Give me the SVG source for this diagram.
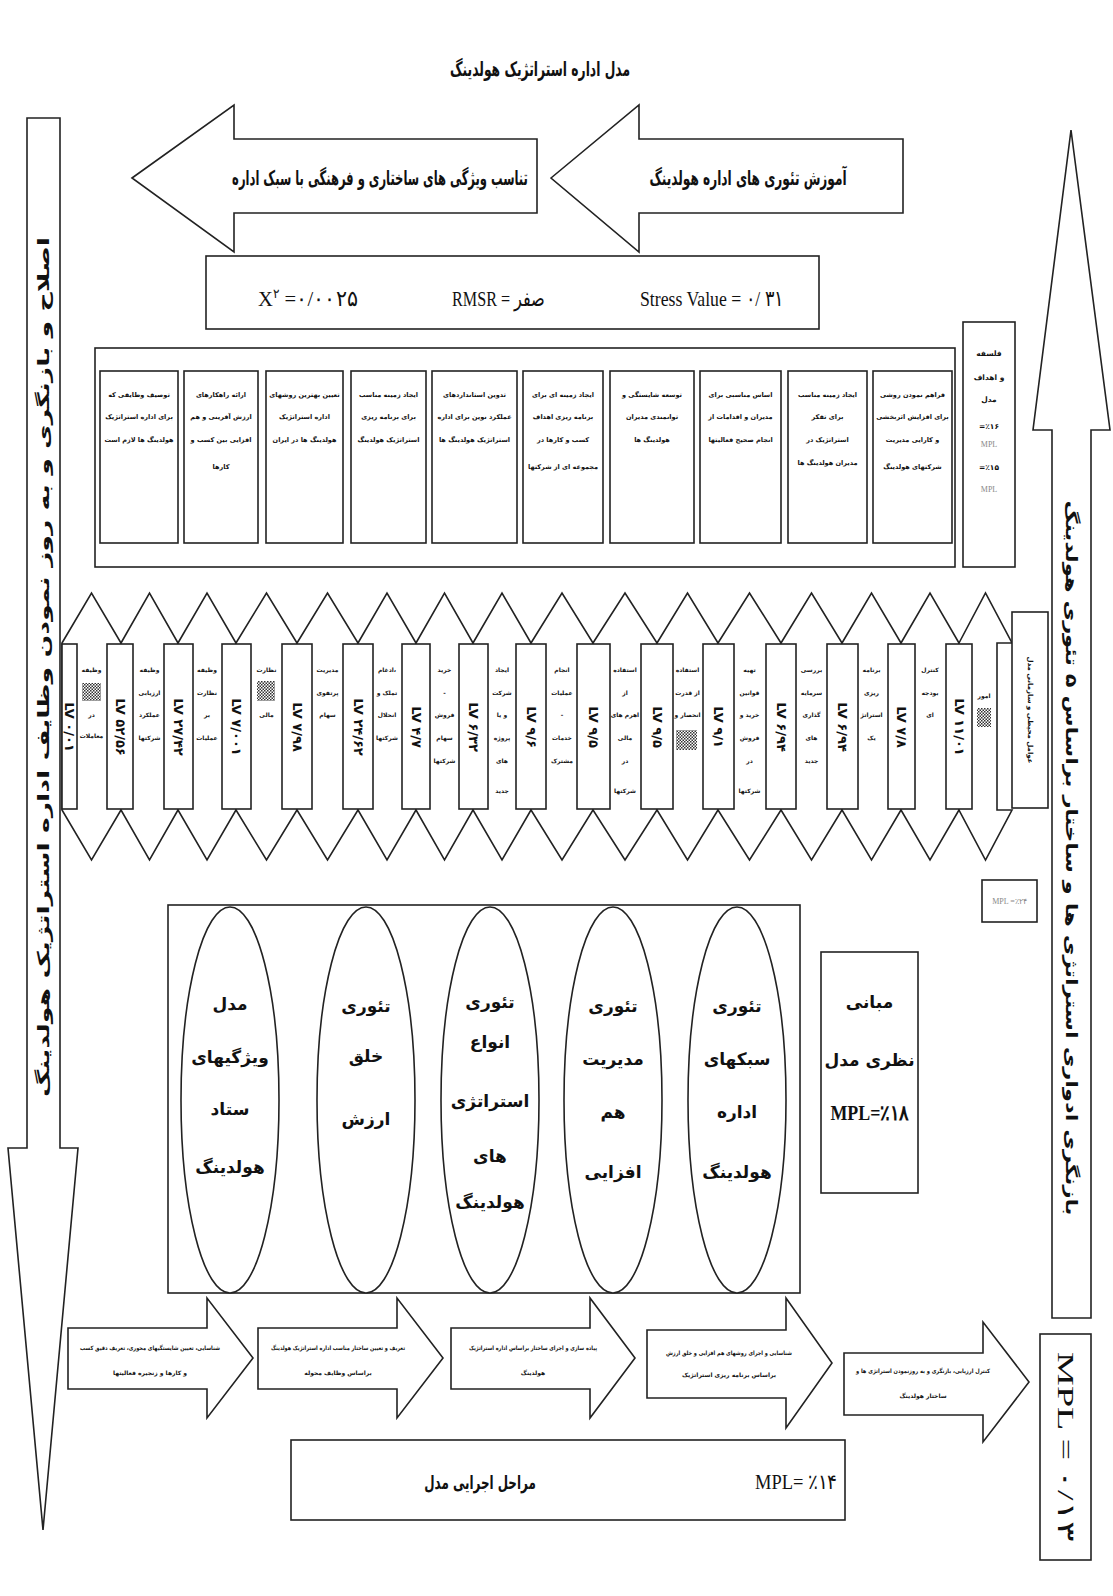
<svg xmlns="http://www.w3.org/2000/svg" width="1113" height="1596" viewBox="0 0 1113 1596">
<defs>
<style>
.s{fill:#fff;stroke:#222;stroke-width:1.6}
.fa{font-family:"DejaVu Sans",sans-serif;font-weight:bold;fill:#111;text-anchor:middle}
.en{font-family:"Liberation Serif",serif;fill:#111}
.sm{font-size:6.5px}
.xs{font-size:6px}
.el{font-size:17px}
.num{font-family:"DejaVu Sans",sans-serif;font-weight:bold;font-size:13px;fill:#111;text-anchor:middle;dominant-baseline:central}
.gray{fill:#888}
</style>
<pattern id="hatch" width="3" height="3" patternUnits="userSpaceOnUse">
<rect width="3" height="3" fill="#fff"/>
<rect width="1.5" height="1.5" fill="#333"/>
<rect x="1.5" y="1.5" width="1.5" height="1.5" fill="#333"/>
</pattern>
</defs>
<rect width="1113" height="1596" fill="#fff"/>

<g id="title">
<text class="fa" font-size="20" transform="translate(540,76) scale(0.65,1)" textLength="277" lengthAdjust="spacingAndGlyphs">مدل اداره استراتژیک هولدینگ</text>
</g>

<g id="arrow-top-left">
<polygon class="s" points="132,178 234,105 234,139 537,139 537,213 234,213 234,252"/>
<text class="fa" font-size="20" transform="translate(380,185) scale(0.6,1)" textLength="493" lengthAdjust="spacingAndGlyphs">تناسب ویژگی های ساختاری و فرهنگی با سبک اداره</text>
</g>
<g id="arrow-top-right">
<polygon class="s" points="551,178 639,105 639,139 903,139 903,213 639,213 639,252"/>
<text class="fa" font-size="20" transform="translate(748,185) scale(0.63,1)" textLength="313" lengthAdjust="spacingAndGlyphs">آموزش تئوری های اداره هولدینگ</text>
</g>

<g id="stats">
<rect class="s" x="206" y="256" width="613" height="73"/>
<text class="en" x="258" y="306" font-size="22" textLength="100" lengthAdjust="spacingAndGlyphs">X<tspan font-size="13" dy="-8">۲</tspan><tspan dy="8">  =۰/۰۰۲۵</tspan></text>
<text class="en" x="452" y="306" font-size="22" direction="ltr" textLength="93" lengthAdjust="spacingAndGlyphs">RMSR = صفر</text>
<text class="en" x="640" y="306" font-size="22" textLength="144" lengthAdjust="spacingAndGlyphs">Stress Value = ۰/ ۳۱</text>
</g>

<g id="goals">
<rect class="s" x="95" y="348" width="860" height="219"/>
<g id="goal-1"><rect class="s" x="100" y="371" width="78" height="172"/>
<text class="fa sm"><tspan x="139" y="397">توصیف وظایفی که</tspan><tspan x="139" y="419">برای اداره استراتژیک</tspan><tspan x="139" y="442">هولدینگ ها لازم است</tspan></text></g>
<g id="goal-2"><rect class="s" x="184" y="371" width="74" height="172"/>
<text class="fa sm"><tspan x="221" y="397">ارائه راهکارهای</tspan><tspan x="221" y="419">ارزش آفرینی و هم</tspan><tspan x="221" y="442">افزایی بین کسب و</tspan><tspan x="221" y="469">کارها</tspan></text></g>
<g id="goal-3"><rect class="s" x="266" y="371" width="77" height="172"/>
<text class="fa sm"><tspan x="304.5" y="397">تعیین بهترین روشهای</tspan><tspan x="304.5" y="419">اداره استراتژیک</tspan><tspan x="304.5" y="442">هولدینگ ها در ایران</tspan></text></g>
<g id="goal-4"><rect class="s" x="351" y="371" width="75" height="172"/>
<text class="fa sm"><tspan x="388.5" y="397">ایجاد زمینه مناسب</tspan><tspan x="388.5" y="419">برای برنامه ریزی</tspan><tspan x="388.5" y="442">استراتژیک هولدینگ</tspan></text></g>
<g id="goal-5"><rect class="s" x="432" y="371" width="85" height="172"/>
<text class="fa sm"><tspan x="474.5" y="397">تدوین استانداردهای</tspan><tspan x="474.5" y="419">عملکرد نوین برای اداره</tspan><tspan x="474.5" y="442">استراتژیک هولدینگ ها</tspan></text></g>
<g id="goal-6"><rect class="s" x="523" y="371" width="80" height="172"/>
<text class="fa sm"><tspan x="563" y="397">ایجاد زمینه ای برای</tspan><tspan x="563" y="419">برنامه ریزی اهداف</tspan><tspan x="563" y="442">کسب و کارها در</tspan><tspan x="563" y="469">مجموعه ای از شرکتها</tspan></text></g>
<g id="goal-7"><rect class="s" x="610" y="371" width="84" height="172"/>
<text class="fa sm"><tspan x="652" y="397">توسعه شایستگی و</tspan><tspan x="652" y="419">توانمندی مدیران</tspan><tspan x="652" y="442">هولدینگ ها</tspan></text></g>
<g id="goal-8"><rect class="s" x="700" y="371" width="81" height="172"/>
<text class="fa sm"><tspan x="740.5" y="397">اساس مناسبی برای</tspan><tspan x="740.5" y="419">مدیران و اقدامات از</tspan><tspan x="740.5" y="442">انجام صحیح فعالیتها</tspan></text></g>
<g id="goal-9"><rect class="s" x="788" y="371" width="79" height="172"/>
<text class="fa sm"><tspan x="827.5" y="397">ایجاد زمینه مناسب</tspan><tspan x="827.5" y="419">برای تفکر</tspan><tspan x="827.5" y="442">استراتژیک در</tspan><tspan x="827.5" y="465">مدیران هولدینگ ها</tspan></text></g>
<g id="goal-10"><rect class="s" x="873" y="371" width="79" height="172"/>
<text class="fa sm"><tspan x="912.5" y="397">فراهم نمودن روشی</tspan><tspan x="912.5" y="419">برای افزایش اثربخشی</tspan><tspan x="912.5" y="442">و کارایی مدیریت</tspan><tspan x="912.5" y="469">شرکتهای هولدینگ</tspan></text></g>
</g>

<g id="philosophy">
<rect class="s" x="963" y="322" width="52" height="245"/>
<text class="fa" font-size="7.5"><tspan x="989" y="356">فلسفه</tspan><tspan x="989" y="380">و اهداف</tspan><tspan x="989" y="402">مدل</tspan><tspan x="989" y="429">=٪۱۶</tspan><tspan x="989" y="470">=٪۱۵</tspan></text>
<text class="en gray" font-size="8" text-anchor="middle"><tspan x="989" y="447">MPL</tspan><tspan x="989" y="492">MPL</tspan></text>
</g>

<g id="tasks">
<g id="task-1"><polygon class="s" points="62,643 91.5,593 121,643 121,810 91.5,860 62,810"/></g>
<g id="task-2"><polygon class="s" points="121,643 149.5,593 178,643 178,810 149.5,860 121,810"/></g>
<g id="task-3"><polygon class="s" points="178,643 207,593 236,643 236,810 207,860 178,810"/></g>
<g id="task-4"><polygon class="s" points="236,643 266.5,593 297,643 297,810 266.5,860 236,810"/></g>
<g id="task-5"><polygon class="s" points="297,643 327.5,593 358,643 358,810 327.5,860 297,810"/></g>
<g id="task-6"><polygon class="s" points="358,643 387,593 416,643 416,810 387,860 358,810"/></g>
<g id="task-7"><polygon class="s" points="416,643 444.5,593 473,643 473,810 444.5,860 416,810"/></g>
<g id="task-8"><polygon class="s" points="473,643 502,593 531,643 531,810 502,860 473,810"/></g>
<g id="task-9"><polygon class="s" points="531,643 562,593 593,643 593,810 562,860 531,810"/></g>
<g id="task-10"><polygon class="s" points="593,643 625,593 657,643 657,810 625,860 593,810"/></g>
<g id="task-11"><polygon class="s" points="657,643 687.5,593 718,643 718,810 687.5,860 657,810"/></g>
<g id="task-12"><polygon class="s" points="718,643 749.5,593 781,643 781,810 749.5,860 718,810"/></g>
<g id="task-13"><polygon class="s" points="781,643 811.5,593 842,643 842,810 811.5,860 781,810"/></g>
<g id="task-14"><polygon class="s" points="842,643 871.5,593 901,643 901,810 871.5,860 842,810"/></g>
<g id="task-15"><polygon class="s" points="901,643 930,593 959,643 959,810 930,860 901,810"/></g>
<g id="task-16"><polygon class="s" points="959,643 985.5,593 1012,643 997,643 997,810 1012,810 985.5,860 959,810"/></g>

<g id="loads">
<rect class="s" x="62" y="644" width="15" height="165"/>
<rect class="s" x="107" y="644" width="26" height="165"/>
<rect class="s" x="164" y="644" width="29" height="165"/>
<rect class="s" x="222" y="644" width="29" height="165"/>
<rect class="s" x="282" y="644" width="30" height="165"/>
<rect class="s" x="343" y="644" width="30" height="165"/>
<rect class="s" x="402" y="644" width="28" height="165"/>
<rect class="s" x="459" y="644" width="29" height="165"/>
<rect class="s" x="516" y="644" width="30" height="165"/>
<rect class="s" x="577" y="644" width="33" height="165"/>
<rect class="s" x="641" y="644" width="32" height="165"/>
<rect class="s" x="703" y="644" width="31" height="165"/>
<rect class="s" x="766" y="644" width="30" height="165"/>
<rect class="s" x="827" y="644" width="31" height="165"/>
<rect class="s" x="888" y="644" width="27" height="165"/>
<rect class="s" x="946" y="644" width="26" height="165"/>
<text class="num" font-size="10" transform="translate(69.5,727) rotate(90)">LV ۰/۰۱</text>
<text class="num" transform="translate(120,727) rotate(90)">LV ۵۲/۵۶</text>
<text class="num" transform="translate(178.5,727) rotate(90)">LV ۲۷/۴۲</text>
<text class="num" transform="translate(236.5,727) rotate(90)">LV ۷/۰۰۱</text>
<text class="num" transform="translate(297,727) rotate(90)">LV ۷/۹۸</text>
<text class="num" transform="translate(358,727) rotate(90)">LV ۲۴/۶۲</text>
<text class="num" transform="translate(416,727) rotate(90)">LV ۴/۷</text>
<text class="num" transform="translate(473.5,727) rotate(90)">LV ۶/۳۲</text>
<text class="num" transform="translate(531,727) rotate(90)">LV ۹/۶</text>
<text class="num" transform="translate(593.5,727) rotate(90)">LV ۹/۵</text>
<text class="num" transform="translate(657,727) rotate(90)">LV ۹/۵</text>
<text class="num" transform="translate(718.5,727) rotate(90)">LV ۹/۱</text>
<text class="num" transform="translate(781,727) rotate(90)">LV ۶/۹۴</text>
<text class="num" transform="translate(842.5,727) rotate(90)">LV ۶/۹۴</text>
<text class="num" transform="translate(901.5,727) rotate(90)">LV ۷/۸</text>
<text class="num" transform="translate(959,727) rotate(90)">LV ۱۱/۰۱</text>
</g>

<g id="task-labels">
<text class="fa xs"><tspan x="91.5" y="672">وظیفه</tspan><tspan x="91.5" y="717">در</tspan><tspan x="91.5" y="738">معاملات</tspan></text>
<rect x="82" y="683" width="19" height="18" fill="url(#hatch)"/>
<text class="fa xs"><tspan x="149.5" y="672">وظیفه</tspan><tspan x="149.5" y="695">ارزیابی</tspan><tspan x="149.5" y="717">عملکرد</tspan><tspan x="149.5" y="740">شرکتها</tspan></text>
<text class="fa xs"><tspan x="207" y="672">وظیفه</tspan><tspan x="207" y="695">نظارت</tspan><tspan x="207" y="717">بر</tspan><tspan x="207" y="740">عملیات</tspan></text>
<text class="fa xs"><tspan x="266.5" y="672">نظارت</tspan><tspan x="266.5" y="717">مالی</tspan></text>
<rect x="257" y="681" width="18" height="20" fill="url(#hatch)"/>
<text class="fa xs"><tspan x="327.5" y="672">مدیریت</tspan><tspan x="327.5" y="695">پرتفوی</tspan><tspan x="327.5" y="717">سهام</tspan></text>
<text class="fa xs"><tspan x="387" y="672">ادغام،</tspan><tspan x="387" y="695">تملک و</tspan><tspan x="387" y="717">انحلال</tspan><tspan x="387" y="740">شرکتها</tspan></text>
<text class="fa xs"><tspan x="444.5" y="672">خرید</tspan><tspan x="444.5" y="695">-</tspan><tspan x="444.5" y="717">فروش</tspan><tspan x="444.5" y="740">سهام</tspan><tspan x="444.5" y="763">شرکتها</tspan></text>
<text class="fa xs"><tspan x="502" y="672">ایجاد</tspan><tspan x="502" y="695">شرکت</tspan><tspan x="502" y="717">و یا</tspan><tspan x="502" y="740">پروژه</tspan><tspan x="502" y="763">های</tspan><tspan x="502" y="793">جدید</tspan></text>
<text class="fa xs"><tspan x="562" y="672">انجام</tspan><tspan x="562" y="695">عملیات</tspan><tspan x="562" y="717">-</tspan><tspan x="562" y="740">خدمات</tspan><tspan x="562" y="763">مشترک</tspan></text>
<text class="fa xs"><tspan x="625" y="672">استفاده</tspan><tspan x="625" y="695">از</tspan><tspan x="625" y="717">اهرم های</tspan><tspan x="625" y="740">مالی</tspan><tspan x="625" y="763">در</tspan><tspan x="625" y="793">شرکتها</tspan></text>
<text class="fa xs"><tspan x="687.5" y="672">استفاده</tspan><tspan x="687.5" y="695">از قدرت</tspan><tspan x="687.5" y="717">انحصار و</tspan></text>
<rect x="676" y="730" width="21" height="20" fill="url(#hatch)"/>
<text class="fa xs"><tspan x="749.5" y="672">تهیه</tspan><tspan x="749.5" y="695">قوانین</tspan><tspan x="749.5" y="717">خرید و</tspan><tspan x="749.5" y="740">فروش</tspan><tspan x="749.5" y="763">در</tspan><tspan x="749.5" y="793">شرکتها</tspan></text>
<text class="fa xs"><tspan x="811.5" y="672">بررسی</tspan><tspan x="811.5" y="695">سرمایه</tspan><tspan x="811.5" y="717">گذاری</tspan><tspan x="811.5" y="740">های</tspan><tspan x="811.5" y="763">جدید</tspan></text>
<text class="fa xs"><tspan x="871.5" y="672">برنامه</tspan><tspan x="871.5" y="695">ریزی</tspan><tspan x="871.5" y="717">استراتژ</tspan><tspan x="871.5" y="740">یک</tspan></text>
<text class="fa xs"><tspan x="930" y="672">کنترل</tspan><tspan x="930" y="695">بودجه</tspan><tspan x="930" y="717">ای</tspan></text>
<text class="fa xs"><tspan x="984" y="698">امور</tspan></text>
<rect x="977" y="708" width="14" height="19" fill="url(#hatch)"/>
</g>
</g>

<g id="factors">
<rect class="s" x="1012" y="612" width="36" height="196"/>
<text class="fa" font-size="7" dominant-baseline="central" transform="translate(1030,710) rotate(90)">عوامل محیطی و سازمانی مدل</text>
</g>

<g id="mpl-24">
<rect class="s" x="982" y="880" width="55" height="42"/>
<text class="en gray" x="1009.5" y="904" font-size="8" text-anchor="middle">MPL =٪۲۴</text>
</g>

<g id="theories">
<rect class="s" x="168" y="905" width="632" height="388"/>
<g id="theory-1"><ellipse class="s" cx="230" cy="1100" rx="49" ry="193"/>
<text class="fa el"><tspan x="230" y="1010">مدل</tspan><tspan x="230" y="1063">ویژگیهای</tspan><tspan x="230" y="1115">ستاد</tspan><tspan x="230" y="1173">هولدینگ</tspan></text></g>
<g id="theory-2"><ellipse class="s" cx="366" cy="1100" rx="49" ry="193"/>
<text class="fa el"><tspan x="366" y="1012">تئوری</tspan><tspan x="366" y="1062">خلق</tspan><tspan x="366" y="1125">ارزش</tspan></text></g>
<g id="theory-3"><ellipse class="s" cx="490" cy="1100" rx="49" ry="193"/>
<text class="fa el"><tspan x="490" y="1008">تئوری</tspan><tspan x="490" y="1048">انواع</tspan><tspan x="490" y="1107">استراتژی</tspan><tspan x="490" y="1162">های</tspan><tspan x="490" y="1208">هولدینگ</tspan></text></g>
<g id="theory-4"><ellipse class="s" cx="613" cy="1100" rx="49" ry="193"/>
<text class="fa el"><tspan x="613" y="1012">تئوری</tspan><tspan x="613" y="1065">مدیریت</tspan><tspan x="613" y="1118">هم</tspan><tspan x="613" y="1178">افزایی</tspan></text></g>
<g id="theory-5"><ellipse class="s" cx="737" cy="1100" rx="49" ry="193"/>
<text class="fa el"><tspan x="737" y="1012">تئوری</tspan><tspan x="737" y="1065">سبکهای</tspan><tspan x="737" y="1118">اداره</tspan><tspan x="737" y="1178">هولدینگ</tspan></text></g>
</g>

<g id="foundations">
<rect class="s" x="821" y="952" width="97" height="241"/>
<text class="fa el"><tspan x="869.5" y="1008">مبانی</tspan><tspan x="869.5" y="1066">نظری مدل</tspan></text>
<text class="en" x="869.5" y="1120" font-size="21" font-weight="bold" text-anchor="middle" textLength="78" lengthAdjust="spacingAndGlyphs">MPL=٪۱۸</text>
</g>

<g id="steps">
<g id="step-1"><polygon class="s" points="68,1328 207,1328 207,1298 253,1358 207,1418 207,1389 68,1389"/>
<text class="fa xs"><tspan x="150" y="1350" textLength="140" lengthAdjust="spacingAndGlyphs">شناسایی، تعیین شایستگیهای محوری، تعریف دقیق کسب</tspan><tspan x="150" y="1375">و کارها و زنجیره فعالیتها</tspan></text></g>
<g id="step-2"><polygon class="s" points="258,1328 397,1328 397,1298 443,1358 397,1418 397,1389 258,1389"/>
<text class="fa xs"><tspan x="338" y="1350" textLength="134" lengthAdjust="spacingAndGlyphs">تعریف و تعیین ساختار مناسب اداره استراتژیک هولدینگ</tspan><tspan x="338" y="1375">براساس وظایف محوله</tspan></text></g>
<g id="step-3"><polygon class="s" points="451,1328 590,1328 590,1298 635,1358 590,1418 590,1389 451,1389"/>
<text class="fa xs"><tspan x="533" y="1350" textLength="128" lengthAdjust="spacingAndGlyphs">پیاده سازی و اجرای ساختار براساس اداره استراتژیک</tspan><tspan x="533" y="1375">هولدینگ</tspan></text></g>
<g id="step-4"><polygon class="s" points="647,1330 786,1330 786,1298 832,1363 786,1428 786,1398 647,1398"/>
<text class="fa xs"><tspan x="729" y="1355" textLength="126" lengthAdjust="spacingAndGlyphs">شناسایی و اجرای روشهای هم افزایی و خلق ارزش</tspan><tspan x="729" y="1377">براساس برنامه ریزی استراتژیک</tspan></text></g>
<g id="step-5"><polygon class="s" points="844,1353 983,1353 983,1322 1029,1382 983,1442 983,1415 844,1415"/>
<text class="fa xs"><tspan x="923" y="1373" textLength="134" lengthAdjust="spacingAndGlyphs">کنترل ارزیابی، بازنگری و به روزنمودن استراتژی ها و</tspan><tspan x="923" y="1398">ساختار هولدینگ</tspan></text></g>
</g>

<g id="stages">
<rect class="s" x="291" y="1440" width="554" height="80"/>
<text class="fa" font-size="19" transform="translate(480,1489) scale(0.72,1)" textLength="155" lengthAdjust="spacingAndGlyphs">مراحل اجرایی مدل</text>
<text class="en" x="755" y="1489" font-size="21" textLength="82" lengthAdjust="spacingAndGlyphs">MPL= ٪۱۴</text>
</g>

<g id="mpl-13">
<rect class="s" x="1040" y="1334" width="51" height="226"/>
<text class="en" font-size="24" text-anchor="middle" dominant-baseline="central" transform="translate(1066,1447) rotate(90)" textLength="190" lengthAdjust="spacingAndGlyphs">MPL = ۰/۱۳</text>
</g>

<g id="arrow-left">
<polygon class="s" points="27,118 60,118 60,1148 78,1148 43,1530 8,1148 27,1148"/>
<text class="fa" font-size="16" dominant-baseline="central" transform="translate(43,667) rotate(-90)" textLength="860" lengthAdjust="spacingAndGlyphs">اصلاح و بازنگری و به روز نمودن وظایف اداره استراتژیک هولدینگ</text>
</g>

<g id="arrow-right">
<polygon class="s" points="1071,130 1110,430 1091,430 1091,1318 1052,1318 1052,430 1033,430"/>
<text class="fa" font-size="16" dominant-baseline="central" transform="translate(1071,858) rotate(90)" textLength="715" lengthAdjust="spacingAndGlyphs">بازنگری ادواری استراتژی ها و ساختار براساس ۵ تئوری هولدینگ</text>
</g>
</svg>
